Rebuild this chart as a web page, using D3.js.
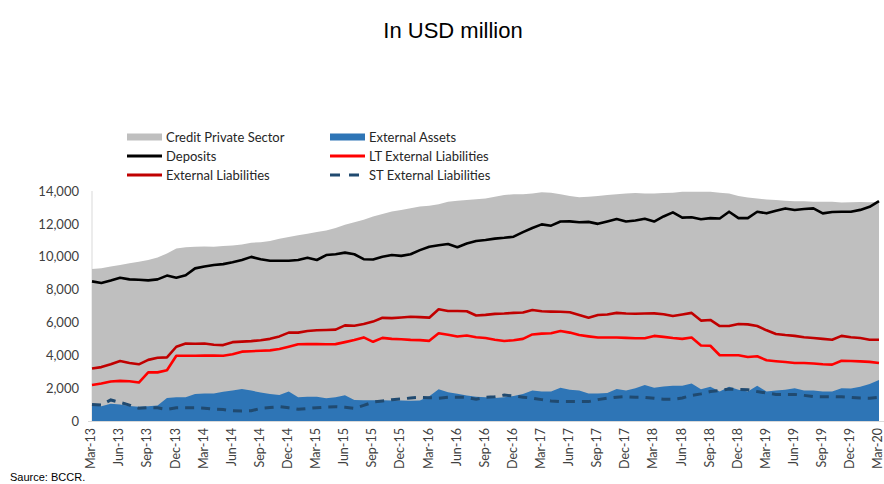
<!DOCTYPE html>
<html><head><meta charset="utf-8">
<script src="https://cdn.jsdelivr.net/npm/d3@7"></script>
<style>
body{margin:0;background:#fff;}
svg{display:block;}
</style></head>
<body><svg id="c" width="884" height="484"></svg>
<script>
// Monthly categories Mar-13 .. Mar-20 (85 months)
const categories = d3.timeMonth.range(new Date(2013,2,1), new Date(2020,3,1)).map(d3.timeFormat("%b-%y"));
const tickLabels = ["Mar-13","Jun-13","Sep-13","Dec-13","Mar-14","Jun-14","Sep-14","Dec-14","Mar-15","Jun-15","Sep-15","Dec-15","Mar-16","Jun-16","Sep-16","Dec-16","Mar-17","Jun-17","Sep-17","Dec-17","Mar-18","Jun-18","Sep-18","Dec-18","Mar-19","Jun-19","Sep-19","Dec-19","Mar-20"];
const yTicks = [0,2000,4000,6000,8000,10000,12000,14000];

const creditPrivateSector = [9250,9300,9400,9500,9600,9700,9800,9950,10200,10500,10580,10600,10620,10600,10650,10680,10750,10850,10880,10950,11100,11200,11300,11400,11500,11600,11750,11950,12100,12250,12450,12600,12750,12850,12950,13050,13100,13200,13350,13400,13450,13500,13550,13650,13750,13800,13800,13850,13920,13900,13800,13700,13620,13650,13700,13750,13800,13850,13880,13850,13850,13880,13900,13950,13960,13960,13950,13900,13850,13700,13600,13550,13480,13450,13400,13380,13380,13350,13350,13350,13300,13320,13330,13320,13330];
const deposits = [8500,8400,8550,8720,8620,8600,8560,8620,8850,8720,8870,9290,9400,9500,9550,9660,9800,9990,9850,9750,9750,9750,9800,9940,9800,10100,10150,10250,10150,9850,9830,10000,10100,10050,10150,10400,10610,10700,10770,10580,10800,10960,11020,11100,11150,11220,11500,11750,11970,11890,12140,12150,12100,12120,12000,12150,12290,12140,12200,12310,12140,12450,12700,12380,12400,12280,12350,12330,12740,12350,12350,12740,12640,12800,12940,12840,12900,12940,12640,12720,12740,12740,12850,13040,13390];
const externalLiabilities = [3200,3280,3450,3650,3530,3450,3720,3850,3870,4520,4720,4700,4720,4640,4620,4800,4830,4860,4920,5000,5150,5380,5380,5480,5520,5540,5560,5820,5800,5900,6050,6280,6260,6300,6350,6320,6290,6800,6700,6700,6680,6420,6460,6520,6540,6580,6600,6760,6680,6660,6650,6620,6450,6290,6450,6480,6580,6540,6530,6540,6550,6500,6390,6480,6580,6110,6150,5780,5780,5900,5880,5780,5520,5300,5230,5180,5100,5050,5000,4950,5180,5100,5050,4950,4950];
const ltExternalLiabilities = [2190,2280,2400,2440,2420,2340,2960,2960,3090,3970,3970,3970,3980,3990,3970,4060,4220,4250,4280,4300,4380,4520,4670,4680,4680,4670,4680,4800,4930,5090,4820,5060,5000,4980,4940,4920,4880,5340,5250,5140,5200,5100,5050,4950,4870,4920,5000,5270,5320,5340,5480,5380,5230,5150,5080,5080,5080,5060,5040,5040,5180,5120,5050,5000,5080,4600,4580,4000,4000,4000,3900,3940,3700,3640,3590,3530,3530,3500,3450,3430,3670,3650,3630,3600,3530];
const externalAssets = [950,900,1050,1000,920,860,900,950,1400,1450,1450,1650,1680,1680,1780,1850,1950,1850,1740,1650,1580,1790,1440,1480,1470,1380,1450,1560,1280,1260,1260,1260,1250,1250,1240,1250,1500,1930,1750,1660,1550,1480,1440,1400,1450,1520,1650,1850,1800,1800,2030,1900,1850,1680,1680,1700,1950,1850,2000,2190,2030,2100,2150,2150,2290,1930,2090,1790,2090,1900,1790,2150,1790,1850,1900,2000,1850,1850,1800,1790,2000,1980,2090,2250,2500];
const stExternalLiabilities = [1010,970,1280,1130,970,770,810,800,700,800,810,810,780,730,700,620,610,620,770,820,870,800,710,760,810,850,870,830,770,950,1150,1220,1300,1340,1400,1440,1420,1390,1440,1440,1440,1320,1440,1480,1580,1520,1450,1390,1300,1220,1180,1180,1180,1180,1300,1390,1450,1480,1440,1440,1380,1320,1320,1400,1560,1650,1790,1850,1950,1920,1900,1790,1700,1620,1620,1620,1560,1480,1480,1480,1470,1440,1400,1390,1440];

(function(){
const svg = d3.select("#c");
const pL = 92, pR = 879, pT = 191, pB = 421;
const x = d3.scaleLinear().domain([0, categories.length-1]).range([pL, pR]);
const y = d3.scaleLinear().domain([0, 14000]).range([pB, pT]);
const idx = d3.range(categories.length);

// Title
svg.append("text").attr("x", 453).attr("y", 38).attr("text-anchor","middle")
  .style("font-family","'Liberation Sans', Arial, sans-serif").style("font-size","22px").attr("fill","#000")
  .text("In USD million");

// Y axis line (light)
svg.append("line").attr("x1",pL).attr("x2",pL).attr("y1",pT).attr("y2",pB).attr("stroke","#d9d9d9");

// Areas
const area = arr => d3.area().x(i=>x(i)).y0(y(0)).y1(i=>y(arr[i]));
svg.append("path").datum(idx).attr("d", area(creditPrivateSector)).attr("fill","#bfbfbf");
svg.append("path").datum(idx).attr("d", area(externalAssets)).attr("fill","#2e75b6");

// Lines
const line = arr => d3.line().x(i=>x(i)).y(i=>y(arr[i]));
svg.append("path").datum(idx).attr("d", line(stExternalLiabilities)).attr("fill","none")
  .attr("stroke","#204a70").attr("stroke-width",3).attr("stroke-dasharray","9,7");
svg.append("path").datum(idx).attr("d", line(ltExternalLiabilities)).attr("fill","none")
  .attr("stroke","#ff0000").attr("stroke-width",2.6).attr("stroke-linejoin","round");
svg.append("path").datum(idx).attr("d", line(externalLiabilities)).attr("fill","none")
  .attr("stroke","#c00000").attr("stroke-width",2.6).attr("stroke-linejoin","round");
svg.append("path").datum(idx).attr("d", line(deposits)).attr("fill","none")
  .attr("stroke","#000").attr("stroke-width",2.6).attr("stroke-linejoin","round");

// Y axis
const yAxis = d3.axisLeft(y).tickValues(yTicks).tickFormat(d3.format(",")).tickSize(0).tickPadding(13);
const gy = svg.append("g").attr("transform",`translate(${pL},0)`).call(yAxis);
gy.select(".domain").remove();
gy.selectAll("text").style("font-family","Lato, 'Liberation Sans', sans-serif").style("font-size","13px").attr("fill","#404040");

// X axis
const xAxis = d3.axisBottom(x).tickValues(idx.filter(i=>i%3===0)).tickFormat(i=>tickLabels[i/3]).tickSize(0);
const gx = svg.append("g").attr("transform",`translate(0,${pB})`).call(xAxis);
gx.select(".domain").attr("stroke","#d9d9d9").attr("d",`M88,0.5H884`);
gx.selectAll("text").attr("transform","rotate(-90)").attr("text-anchor","end")
  .attr("x",-7).attr("y",0).attr("dy","0.22em")
  .style("font-family","Lato, 'Liberation Sans', sans-serif").style("font-size","12.5px").attr("fill","#404040");

// Legend
const lg = svg.append("g").style("font-family","Lato, 'Liberation Sans', sans-serif").style("font-size","13px");
const items = [
  {t:"Credit Private Sector", x:127, y:137, type:"rect", c:"#bfbfbf"},
  {t:"External Assets", x:330, y:137, type:"rect", c:"#2e75b6"},
  {t:"Deposits", x:127, y:156, type:"line", c:"#000"},
  {t:"LT External Liabilities", x:330, y:156, type:"line", c:"#ff0000"},
  {t:"External Liabilities", x:127, y:175, type:"line", c:"#c00000"},
  {t:"ST External Liabilities", x:330, y:175, type:"dash", c:"#204a70"}
];
items.forEach(d=>{
  if(d.type==="rect") lg.append("rect").attr("x",d.x).attr("y",d.y-3.5).attr("width",35).attr("height",7).attr("fill",d.c);
  else lg.append("line").attr("x1",d.x).attr("x2",d.x+35).attr("y1",d.y).attr("y2",d.y).attr("stroke",d.c).attr("stroke-width",3)
        .attr("stroke-dasharray", d.type==="dash" ? "10,9" : null);
  lg.append("text").attr("x",d.x+39).attr("y",d.y).attr("dy","0.35em").attr("fill","#262626").text(d.t);
});

// Source
svg.append("text").attr("x",10).attr("y",481).style("font-family","'Liberation Sans', Arial, sans-serif")
  .style("font-size","11px").attr("fill","#000").text("Saurce: BCCR.");
})();
</script></body></html>
